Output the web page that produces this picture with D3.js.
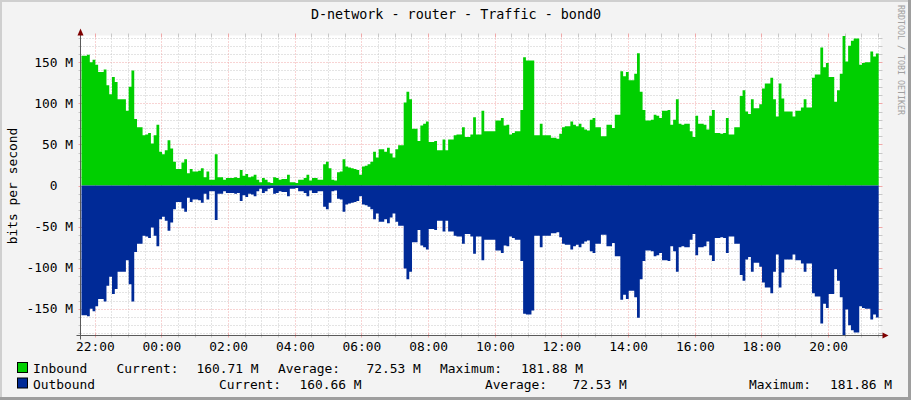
<!DOCTYPE html>
<html><head><meta charset="utf-8">
<script src="https://cdn.jsdelivr.net/npm/d3@7"></script>
<style>
html,body{margin:0;padding:0;background:#f3f3f3;}
svg{display:block;}
svg text{font-family:"DejaVu Sans Mono",monospace;white-space:pre;fill:#000;}
</style></head><body>
<svg id="chart" width="911" height="400"></svg>
<script>
// ---------------- data (M bits/s, 5-minute steps from 21:36) ----------------
const inbound = [
158,158,159,150,153,147,138,138,141,122,111,132,126,105,105,105,91,120,140,81,
71,71,61,62,64,51,61,74,41,38,43,55,45,29,20,20,28,32,15,20,
17,17,18,21,10,17,7,7,38,10,10,7,9,9,9,10,9,19,12,14,
10,11,13,7,4,9,7,4,3,10,9,7,
8,8,13,4,4,3,7,7,9,13,6,9,9,7,7,26,29,21,7,6,
16,17,32,23,22,21,20,19,13,23,24,26,29,41,34,44,44,41,46,39,
34,44,49,49,101,114,105,69,69,54,73,75,78,53,53,54,43,43,56,43,
56,56,61,62,62,71,59,59,62,83,62,62,
91,66,66,66,66,79,79,82,73,74,62,64,66,66,92,156,152,152,152,61,
61,75,61,61,61,58,58,57,63,71,72,72,78,74,72,75,71,68,67,80,
82,71,71,60,60,74,74,70,86,86,139,133,138,128,128,136,161,114,92,79,
79,80,86,85,82,91,91,92,74,80,105,75,
74,75,75,66,59,85,75,75,74,68,85,92,64,64,63,64,82,62,62,71,
71,109,116,90,87,105,94,94,99,118,124,124,131,105,84,124,106,90,90,90,
84,91,91,95,105,95,95,131,135,135,168,144,149,132,132,102,116,136,181.88,151,
170,176,179,179,147,149,150,150,163,157,160.71
];
const outbound = [
158,158,159,150,153,147,138,138,141,122,111,132,126,105,105,105,91,120,141,81,
71,71,61,62,64,51,61,74,41,38,43,55,45,29,20,20,28,32,15,20,
17,17,18,21,10,17,7,7,42,10,10,7,9,9,9,10,9,19,12,14,
10,11,13,7,4,9,7,4,3,10,9,7,
8,8,13,4,4,3,7,7,9,13,6,9,9,7,7,26,29,21,7,6,
16,17,32,23,22,21,20,19,13,23,24,26,29,41,34,44,44,41,46,39,
34,44,49,49,101,114,105,69,69,54,73,75,78,53,53,54,43,43,56,43,
56,56,61,62,62,71,59,59,62,83,62,62,
91,66,66,66,66,79,79,82,73,74,62,64,66,66,92,156,157,157,152,61,
61,75,61,61,61,58,58,57,63,71,72,72,78,74,72,75,71,68,67,80,
82,71,71,60,60,74,74,70,86,86,139,133,138,128,128,136,161,114,92,79,
79,80,86,85,82,91,91,92,74,80,105,75,
74,75,75,66,59,85,75,75,74,68,85,92,64,64,63,64,82,62,62,71,
71,109,116,90,87,105,94,94,99,118,124,124,131,105,84,124,106,90,90,90,
84,91,91,95,105,95,95,131,135,135,168,144,149,132,132,102,116,136,181.86,151,
170,176,179,179,147,149,150,150,163,157,160.66
];
const yTickValues = [150,100,50,0,-50,-100,-150];
const yTickLabels = ["150 M","100 M","50 M","0  ","-50 M","-100 M","-150 M"];
const titleText = "D-network - router - Traffic - bond0";
const yTitle = "bits per second";
const watermark = "RRDTOOL / TOBI OETIKER";
const legendRow1 = [["Inbound",33],["Current:",116.5],["160.71 M",196.5],["Average:",278],["72.53 M",366.5],["Maximum:",440],["181.88 M",521]];
const legendRow2 = [["Outbound",33],["Current:",219],["160.66 M",299.5],["Average:",485],["72.53 M",572.5],["Maximum:",749],["181.86 M",830]];
const colIn = "#00CF00", colOut = "#002A97";

// ---------------- layout ----------------
const svg = d3.select("#chart");
const W = 911, H = 400;
const L = 80.5, R = 880.5, T = 35.5, B = 335.5;
const t0 = new Date(2024,0,1,21,34,16);
const t1 = new Date(t0.getTime() + 24*3600*1000);
const dataStart = new Date(2024,0,1,21,36,0);
const step = 5*60*1000;

const x = d3.scaleTime().domain([t0,t1]).range([L,R]);
const y = d3.scaleLinear().domain([-182.5,182.5]).range([B,T]);

// background & frame shades
svg.append("rect").attr("width",W).attr("height",H).attr("fill","#f3f3f3");
svg.append("rect").attr("x",0).attr("y",0).attr("width",W).attr("height",2).attr("fill","#cfcfcf");
svg.append("rect").attr("x",0).attr("y",0).attr("width",2).attr("height",H).attr("fill","#cfcfcf");
svg.append("rect").attr("x",W-3).attr("y",0).attr("width",3).attr("height",H).attr("fill","#9e9e9e");
svg.append("rect").attr("x",0).attr("y",H-3).attr("width",W).attr("height",3).attr("fill","#9e9e9e");

// canvas
svg.append("rect").attr("x",L).attr("y",T).attr("width",R-L).attr("height",B-T).attr("fill","#fff");

// grid (under the data)
const gGrid = svg.append("g");
const minorCol = "#c8c8c8", majorCol = "#f0a8a8";
function hLine(v,col){
  const yy = Math.round(y(v))+0.5;
  gGrid.append("line").attr("x1",L).attr("x2",R).attr("y1",yy).attr("y2",yy)
    .attr("stroke",col).attr("stroke-dasharray","1,2");
  gGrid.append("line").attr("x1",L-2).attr("x2",L+1).attr("y1",yy).attr("y2",yy).attr("stroke",col);
  gGrid.append("line").attr("x1",R-2).attr("x2",R+2).attr("y1",yy).attr("y2",yy).attr("stroke",col);
}
function vLine(t,col){
  const xx = Math.round(x(t))+0.5;
  gGrid.append("line").attr("x1",xx).attr("x2",xx).attr("y1",T).attr("y2",B)
    .attr("stroke",col).attr("stroke-dasharray","1,2");
  gGrid.append("line").attr("x1",xx).attr("x2",xx).attr("y1",T-2).attr("y2",T+2).attr("stroke",col);
  gGrid.append("line").attr("x1",xx).attr("x2",xx).attr("y1",B-2).attr("y2",B+2).attr("stroke",col);
}
d3.range(-180,181,10).filter(v=>v%50!==0).forEach(v=>hLine(v,minorCol));
const majorTimes = d3.timeHour.every(2).range(t0,t1);
d3.timeMinute.every(30).range(t0,t1).filter(t=>t.getMinutes()!==0||t.getHours()%2!==0).forEach(t=>vLine(t,minorCol));
yTickValues.forEach(v=>hLine(v,majorCol));
majorTimes.forEach(t=>vLine(t,majorCol));

// data areas
function series(arr, sign){
  const pts = arr.map((v,i)=>({t:new Date(dataStart.getTime()+i*step), v:sign*v}));
  pts.push({t:new Date(dataStart.getTime()+arr.length*step), v:sign*arr[arr.length-1]});
  return pts;
}
const area = d3.area().curve(d3.curveStepAfter).x(d=>x(d.t)).y0(y(0)).y1(d=>y(d.v));
svg.append("path").datum(series(inbound,1)).attr("d",area).attr("fill",colIn);
svg.append("path").datum(series(outbound,-1)).attr("d",area).attr("fill",colOut);

// axes lines & arrows
const axisCol = "#5a5a5a";
svg.append("line").attr("x1",L).attr("x2",L).attr("y1",T-4).attr("y2",B+4).attr("stroke",axisCol);
svg.append("line").attr("x1",L-4).attr("x2",R+4).attr("y1",B).attr("y2",B).attr("stroke",axisCol);
svg.append("path").attr("d",`M${L},${T-7} L${L-3},${T} L${L+3},${T} Z`).attr("fill","#7f0000");
svg.append("path").attr("d",`M${R+8},${B} L${R+2},${B-3} L${R+2},${B+3} Z`).attr("fill","#7f0000");

// axis labels via d3 axes
const fs = 12.9;
const yAxis = d3.axisLeft(y).tickValues(yTickValues).tickFormat((d,i)=>yTickLabels[i]).tickSize(0).tickPadding(7.5);
const gy = svg.append("g").attr("transform",`translate(${L},0)`).call(yAxis);
gy.select(".domain").remove();
gy.selectAll("text").attr("font-size",fs).attr("font-family","DejaVu Sans Mono").attr("fill","#000");

const xAxis = d3.axisBottom(x).tickValues(majorTimes).tickFormat(d3.timeFormat("%H:%M")).tickSize(0).tickPadding(6);
const gx = svg.append("g").attr("transform",`translate(0,${B})`).call(xAxis);
gx.select(".domain").remove();
gx.selectAll("text").attr("font-size",fs).attr("font-family","DejaVu Sans Mono").attr("fill","#000");

// titles
svg.append("text").attr("x",456).attr("y",19).attr("text-anchor","middle").attr("font-size",13.4).text(titleText);
svg.append("text").attr("transform","translate(16.5,186) rotate(-90)").attr("text-anchor","middle").attr("font-size",fs).text(yTitle);
svg.append("text").attr("transform","translate(898,5) rotate(90)").attr("font-size",8.3).style("fill","#a0a0a0").text(watermark);

// legend
function legendRow(items, yBase, col){
  svg.append("rect").attr("x",17.5).attr("y",yBase-10.5).attr("width",10).attr("height",10).attr("fill",col).attr("stroke","#000");
  items.forEach(([s,xx])=>{
    svg.append("text").attr("x",xx).attr("y",yBase).attr("font-size",fs).text(s);
  });
}
legendRow(legendRow1, 373, colIn);
legendRow(legendRow2, 388.5, colOut);
</script>
</body></html>
